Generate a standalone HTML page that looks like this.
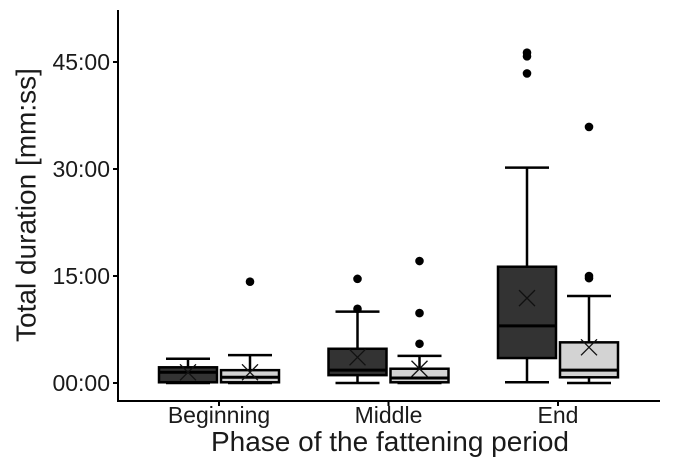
<!DOCTYPE html>
<html><head><meta charset="utf-8"><style>
body{margin:0;background:#fff}
svg{display:block;font-family:"Liberation Sans",sans-serif}
</style></head><body>
<svg id="chart" width="676" height="473" viewBox="0 0 676 473">
<g id="plot"></g>
<line x1="118" y1="10" x2="118" y2="401" stroke="#000" stroke-width="2"/>
<line x1="117" y1="401" x2="660" y2="401" stroke="#000" stroke-width="2"/>
<text x="28" y="205" transform="rotate(-90 28 205)" text-anchor="middle" dominant-baseline="middle" font-size="28" fill="#1a1a1a">Total duration [mm:ss]</text>
<text x="390" y="451" text-anchor="middle" font-size="28" fill="#1a1a1a">Phase of the fattening period</text>
</svg>
<script>
const categories=["Beginning","Middle","End"];
const yTicks=[0,15,30,45];
const yTickLabels=["00:00","15:00","30:00","45:00"];
// [whiskerLow, q1, median, q3, whiskerHigh, mean] in minutes
const darkStats=[[0,0.1,1.5,2.2,3.4,1.5],[0,1.1,1.8,4.8,10.0,3.6],[0.1,3.5,8.0,16.3,30.2,11.9]];
const lightStats=[[0,0.1,0.8,1.8,3.9,1.5],[0,0.1,0.7,2.0,3.8,2.0],[0,0.8,1.8,5.7,12.2,5.0]];
const darkOutliers=[[],[10.4,14.6],[43.4,45.8,46.3]];
const lightOutliers=[[14.2],[5.5,9.8,17.1],[14.7,15.0,35.9]];
const NS="http://www.w3.org/2000/svg";
const svg=document.getElementById('chart');
const g=document.getElementById('plot');
function y(v){return 383-v*107/15;}
function x(i){return 219+i*169.5;}
function mk(tag,attrs,parent){const e=document.createElementNS(NS,tag);for(const k in attrs)e.setAttribute(k,attrs[k]);(parent||g).appendChild(e);return e;}
yTicks.forEach((t,i)=>{
  const l=mk('line',{x1:113,x2:118,y1:y(t),y2:y(t),stroke:'#000','stroke-width':2},svg);
  
  
  const tx=mk('text',{x:110,y:y(t)+8,'text-anchor':'end','font-size':23,fill:'#1a1a1a'},svg);
  tx.textContent=yTickLabels[i];
  
  
});
categories.forEach((c,i)=>{
  const l=mk('line',{x1:x(i),x2:x(i),y1:401,y2:406,stroke:'#000','stroke-width':2},svg);
  
  
  const tx=mk('text',{x:x(i),y:423,'text-anchor':'middle','font-size':23,fill:'#1a1a1a'},svg);
  tx.textContent=c;
  
  
});
function box(cx,s,fill,outs,name){
  const grp=mk('g',{});
  
  
  const w=58,cap=22;
  mk('line',{x1:cx,x2:cx,y1:y(s[4]),y2:y(s[0]),stroke:'#000','stroke-width':2.5},grp);
  mk('line',{x1:cx-cap,x2:cx+cap,y1:y(s[4]),y2:y(s[4]),stroke:'#000','stroke-width':2.5},grp);
  mk('line',{x1:cx-cap,x2:cx+cap,y1:y(s[0]),y2:y(s[0]),stroke:'#000','stroke-width':2.5},grp);
  mk('rect',{x:cx-w/2,y:y(s[3]),width:w,height:Math.max(1,y(s[1])-y(s[3])),fill:fill,stroke:'#000','stroke-width':2.5},grp);
  mk('line',{x1:cx-w/2,x2:cx+w/2,y1:y(s[2]),y2:y(s[2]),stroke:'#000','stroke-width':3},grp);
  const m=y(s[5]),d=8;
  mk('path',{d:`M${cx-d},${m-d}L${cx+d},${m+d}M${cx-d},${m+d}L${cx+d},${m-d}`,stroke:'#111','stroke-width':1.3,fill:'none'},grp);
  outs.forEach(o=>{const c=mk('circle',{cx:cx,cy:y(o),r:4.3,fill:'#000'},grp);
    
    });
}
categories.forEach((c,i)=>{
  box(x(i)-31,darkStats[i],'#333333',darkOutliers[i],'box-dark-'+c.toLowerCase());
  box(x(i)+31,lightStats[i],'#d3d3d3',lightOutliers[i],'box-light-'+c.toLowerCase());
});
</script>
</body></html>
